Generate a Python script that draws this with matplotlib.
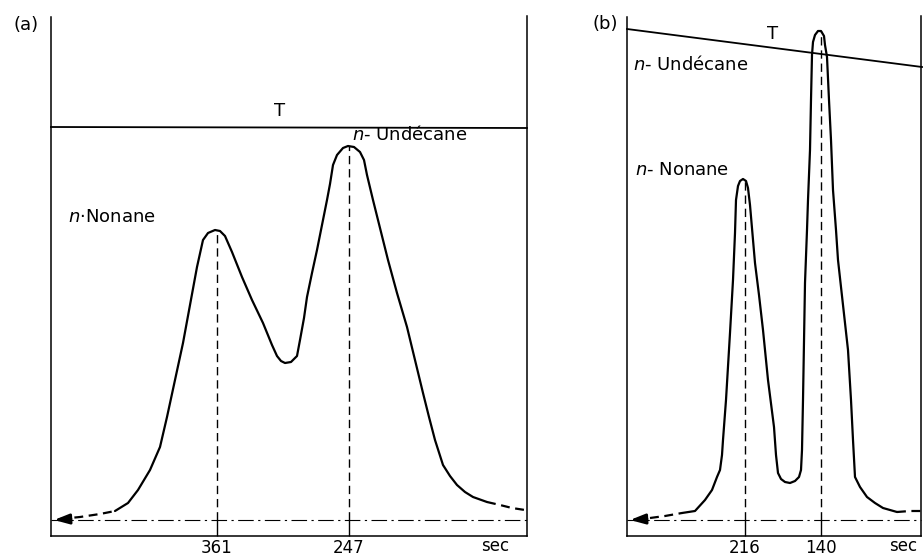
import matplotlib
matplotlib.use("Agg")
import matplotlib.pyplot as plt
import numpy as np

# ---------------- data: panel (a) ----------------
# x = chart position along the recorder trace, y = detector signal above baseline
a_solid_x = [64, 77, 87, 99, 109, 116, 124, 132, 139, 146, 152, 157, 164, 169, 174, 181,
             191, 201, 212, 221, 226, 230, 234, 240, 246, 249, 253, 256, 261, 266, 271,
             276, 279, 282, 286, 292, 297, 303, 309, 313, 316, 322, 329, 337, 346, 356,
             364, 372, 378, 384, 392, 399, 406, 414, 422, 436]
a_solid_y = [9, 17, 30, 50, 73, 103, 140, 177, 215, 253, 280, 287, 290, 289, 284, 268,
             243, 220, 197, 175, 164, 159, 157, 158, 164, 180, 202, 223, 247, 270, 295,
             320, 336, 355, 365, 372, 374, 373, 368, 360, 345, 320, 292, 260, 227, 193,
             160, 127, 103, 80, 55, 44, 35, 28, 23, 18]
a_head_x = [9, 29, 49, 64]
a_head_y = [1, 3, 6, 9]
a_tail_x = [436, 449, 461, 474]
a_tail_y = [18, 15, 12, 10]
a_peak_x = [166, 298]
a_peak_y = [290, 374]
a_tick_labels = ["361", "247"]
a_T_x = [0, 476]
a_T_y = [393, 392]
a_right = 476

# ---------------- data: panel (b) ----------------
b_solid_x = [55, 68, 78, 85, 90, 93, 95, 96, 99, 103, 106, 108, 109, 111, 113, 116, 119,
             121, 123, 128, 132, 136, 141, 147, 149, 151, 154, 158, 163, 168, 172, 174,
             175, 176, 178, 180, 181, 183, 184, 185, 186, 188, 191, 194, 197, 198, 200,
             202, 204, 206, 209, 211, 216, 221, 224, 226, 228, 233, 240, 248, 256, 270]
b_solid_y = [7, 9, 20, 30, 43, 50, 65, 80, 120, 187, 240, 287, 320, 334, 339, 341, 339,
             332, 315, 257, 225, 190, 140, 93, 65, 47, 41, 38, 37, 39, 43, 50,
             70, 120, 237, 290, 320, 370, 420, 465, 478, 485, 489, 489, 484, 475, 463,
             420, 380, 330, 290, 260, 215, 170, 120, 80, 43, 33, 23, 17, 12, 8]
b_head_x = [23, 38, 55]
b_head_y = [2, 4, 7]
b_tail_x = [270, 283, 296]
b_tail_y = [8, 9, 9]
b_peak_x = [118, 194]
b_peak_y = [341, 489]
b_tick_labels = ["216", "140"]
b_T_x = [0, 295]
b_T_y = [491, 453]
b_right = 294

W, H = 923, 557
fig = plt.figure(figsize=(W / 100, H / 100), dpi=100)
fig.patch.set_facecolor("white")

FS = 13
FS_TICK = 12
LW_AX = 1.1
LW_C = 1.6


def panel(rect, xlim, right, solid_x, solid_y, head_x, head_y, tail_x, tail_y,
          peak_x, peak_y, ticks, T_x, T_y):
    ax = fig.add_axes(rect)
    ax.set_xlim(*xlim)
    ax.set_ylim(-37, 520)
    ax.patch.set_alpha(0)
    ax.spines["top"].set_visible(False)
    for s in ("left", "right", "bottom"):
        ax.spines[s].set_linewidth(LW_AX)
    ax.spines["left"].set_position(("data", 0))
    ax.spines["left"].set_bounds(-16, 503)
    ax.spines["right"].set_position(("data", right))
    ax.spines["right"].set_bounds(-16, 504)
    ax.spines["bottom"].set_position(("data", -16))
    ax.spines["bottom"].set_bounds(0, right)
    ax.set_yticks([])
    ax.set_xticks(peak_x)
    ax.set_xticklabels(ticks, fontsize=FS_TICK)
    ax.tick_params(axis="x", direction="in", length=11.5, width=1.0, pad=2.5)

    # trace
    ax.plot(solid_x, solid_y, color="k", lw=LW_C, solid_joinstyle="round",
            solid_capstyle="round")
    ax.plot(head_x, head_y, color="k", lw=LW_C, linestyle=(0, (4, 2.5)))
    ax.plot(tail_x, tail_y, color="k", lw=LW_C, linestyle=(0, (4, 2.5)))
    # baseline dash-dot
    ax.hlines(0, 0, right, colors="k", lw=0.8, linestyles=[(0, (14, 4, 2, 4))])
    # arrow at start of baseline
    ax.annotate("", xy=(3, 0), xytext=(20, 1),
                arrowprops=dict(arrowstyle="-|>,head_length=0.9,head_width=0.3",
                                color="k", lw=2.0, shrinkA=0, shrinkB=0))
    # peak retention lines
    ax.vlines(peak_x, 0, peak_y, colors="k", lw=1.0, linestyles=[(0, (6, 3.5))])
    # temperature line
    ax.plot(T_x, T_y, color="k", lw=1.3)
    return ax


ax_a = panel([0, 0, 590 / W, 1], (-51, 539), a_right, a_solid_x, a_solid_y,
             a_head_x, a_head_y, a_tail_x, a_tail_y, a_peak_x, a_peak_y,
             a_tick_labels, a_T_x, a_T_y)
ax_b = panel([590 / W, 0, 333 / W, 1], (-37, 296), b_right, b_solid_x, b_solid_y,
             b_head_x, b_head_y, b_tail_x, b_tail_y, b_peak_x, b_peak_y,
             b_tick_labels, b_T_x, b_T_y)

# texts panel (a)
ax_a.text(-25, 495, "(a)", fontsize=FS, ha="center", va="center")
ax_a.text(229, 409, "T", fontsize=FS, ha="center", va="center")
ax_a.text(17, 303, r"$n$·Nonane", fontsize=FS, ha="left", va="center")
ax_a.text(301, 385, r"$n$- Undécane", fontsize=FS, ha="left", va="center")
ax_a.text(444, -26, "sec", fontsize=FS_TICK, ha="center", va="center")

# texts panel (b)
ax_b.text(-22, 496, "(b)", fontsize=FS, ha="center", va="center")
ax_b.text(146, 486, "T", fontsize=FS, ha="center", va="center")
ax_b.text(6, 455, r"$n$- Undécane", fontsize=FS, ha="left", va="center")
ax_b.text(8, 350, r"$n$- Nonane", fontsize=FS, ha="left", va="center")
ax_b.text(276, -26, "sec", fontsize=FS_TICK, ha="center", va="center")

fig.savefig("out.png", dpi=100, facecolor="white")
